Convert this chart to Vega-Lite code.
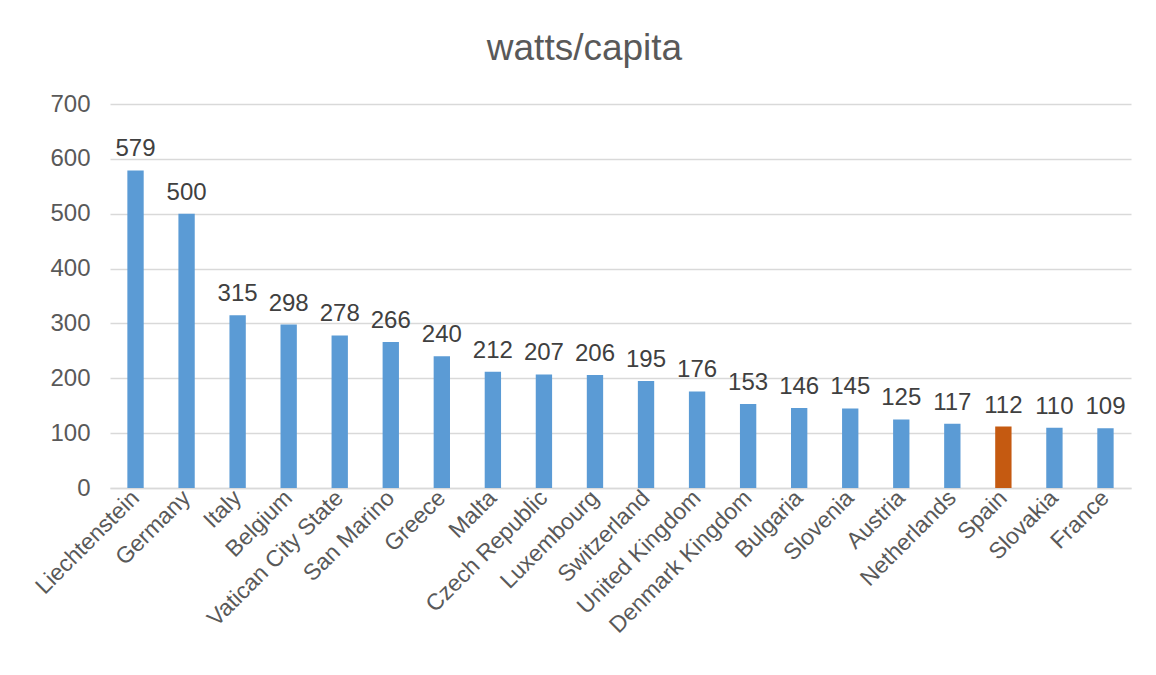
{
  "$schema": "https://vega.github.io/schema/vega-lite/v6.json",
  "width": 1021,
  "height": 384,
  "autosize": {"type": "none"},
  "padding": {"left": 110, "top": 104, "right": 25, "bottom": 187},
  "background": "white",
  "title": {"text": "watts/capita", "font": "Liberation Sans", "fontSize": 37, "fontWeight": "normal", "color": "#595959", "offset": 24, "dx": -36},
  "data": {"values": [
    {"country": "Liechtenstein", "value": 579, "hl": "n"},
    {"country": "Germany", "value": 500, "hl": "n"},
    {"country": "Italy", "value": 315, "hl": "n"},
    {"country": "Belgium", "value": 298, "hl": "n"},
    {"country": "Vatican City State", "value": 278, "hl": "n"},
    {"country": "San Marino", "value": 266, "hl": "n"},
    {"country": "Greece", "value": 240, "hl": "n"},
    {"country": "Malta", "value": 212, "hl": "n"},
    {"country": "Czech Republic", "value": 207, "hl": "n"},
    {"country": "Luxembourg", "value": 206, "hl": "n"},
    {"country": "Switzerland", "value": 195, "hl": "n"},
    {"country": "United Kingdom", "value": 176, "hl": "n"},
    {"country": "Denmark Kingdom", "value": 153, "hl": "n"},
    {"country": "Bulgaria", "value": 146, "hl": "n"},
    {"country": "Slovenia", "value": 145, "hl": "n"},
    {"country": "Austria", "value": 125, "hl": "n"},
    {"country": "Netherlands", "value": 117, "hl": "n"},
    {"country": "Spain", "value": 112, "hl": "y"},
    {"country": "Slovakia", "value": 110, "hl": "n"},
    {"country": "France", "value": 109, "hl": "n"}
  ]},
  "encoding": {
    "x": {"field": "country", "type": "nominal", "sort": null, "title": null,
      "scale": {"paddingInner": 0.68, "paddingOuter": 0.34},
      "axis": {"labelAngle": -45, "labelAlign": "right", "labelBaseline": "middle", "labelFont": "Liberation Sans", "labelFontSize": 23, "labelColor": "#595959", "labelLimit": 0, "ticks": false, "domainColor": "#d9d9d9", "domainWidth": 1.5, "labelPadding": 6, "labelOverlap": false}},
    "y": {"field": "value", "type": "quantitative", "title": null,
      "scale": {"domain": [0, 700]},
      "axis": {"values": [0, 100, 200, 300, 400, 500, 600, 700], "labelFont": "Liberation Sans", "labelFontSize": 24, "labelColor": "#595959", "ticks": false, "domain": false, "gridColor": "#d9d9d9", "gridWidth": 1.5, "labelPadding": 20}}
  },
  "layer": [
    {"mark": {"type": "bar"},
     "encoding": {"color": {"field": "hl", "type": "nominal", "legend": null, "scale": {"domain": ["n", "y"], "range": ["#5b9bd5", "#c55a11"]}}}},
    {"mark": {"type": "text", "baseline": "alphabetic", "dy": -14, "font": "Liberation Sans", "fontSize": 24, "color": "#404040"},
     "encoding": {"text": {"field": "value", "type": "quantitative"}}}
  ],
  "config": {"view": {"stroke": null}}
}
